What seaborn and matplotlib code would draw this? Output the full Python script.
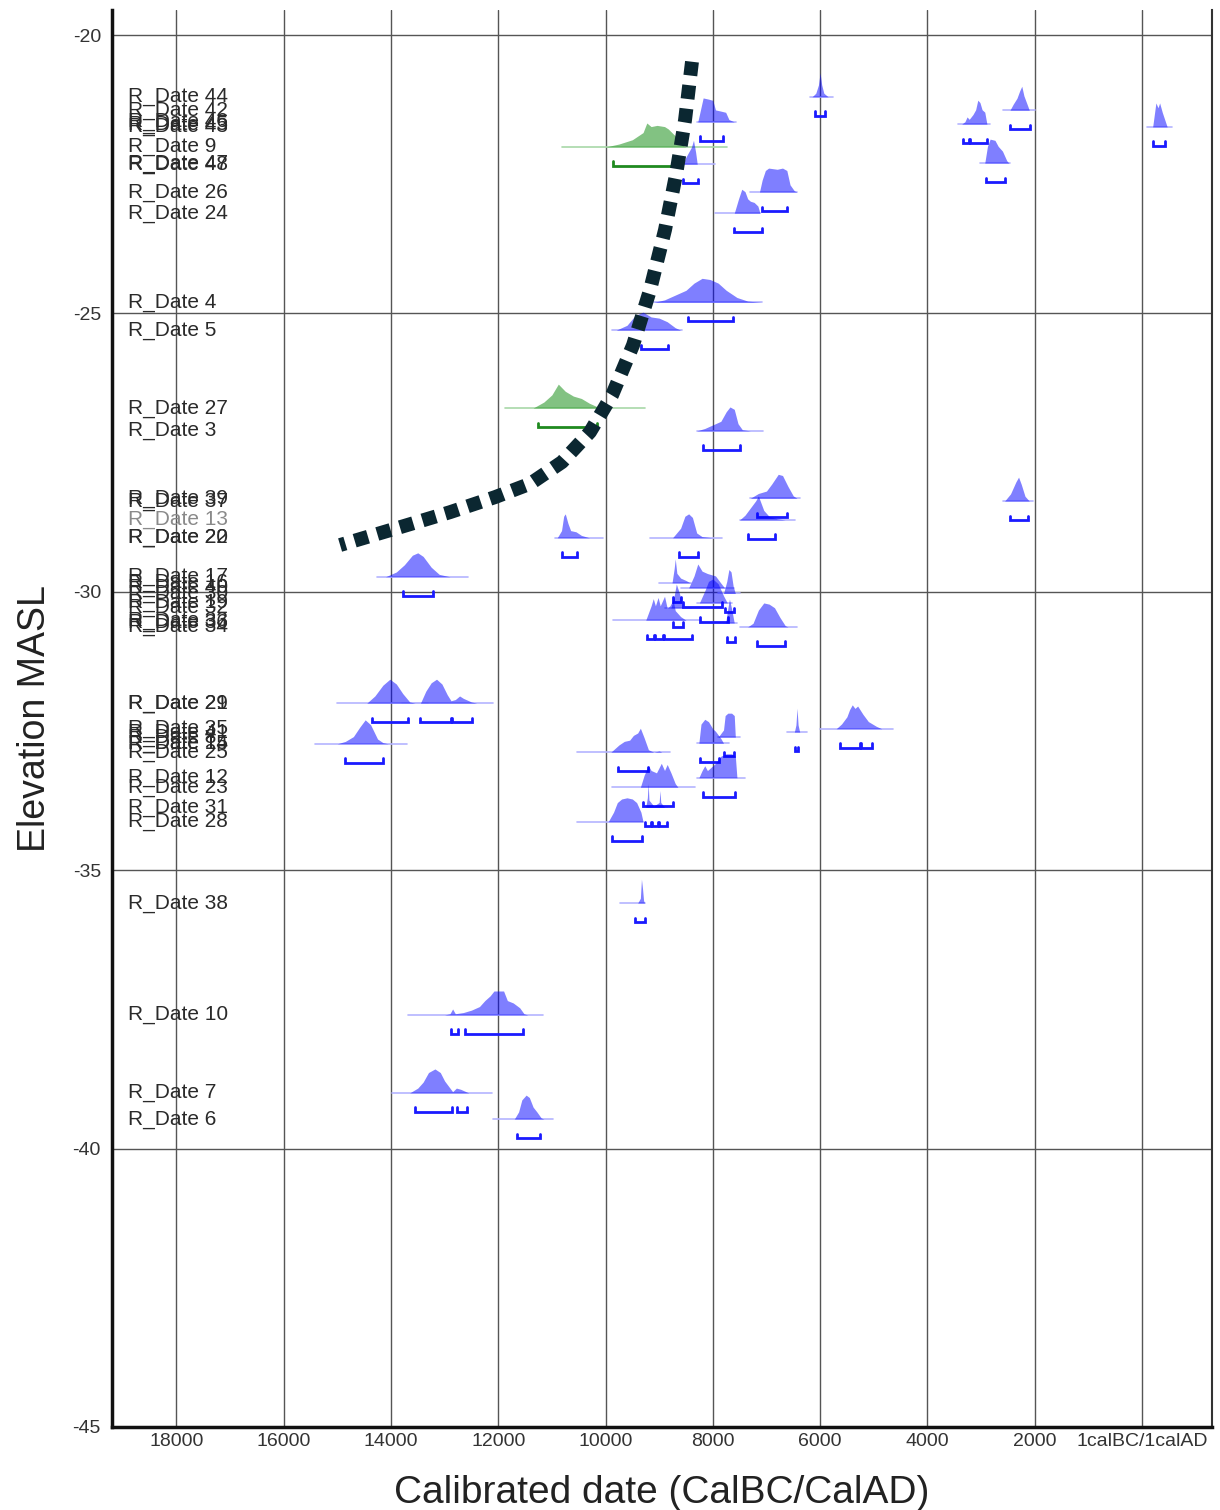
import matplotlib
matplotlib.use("Agg")
import matplotlib.pyplot as plt
from matplotlib.ticker import MultipleLocator
import seaborn as sns

# --- data ----------------------------------------------------------------
# years are cal BC (negative = AD), elevations in m ASL
labels = ["R_Date 44", "R_Date 42", "R_Date 46", "R_Date 45", "R_Date 43",
          "R_Date 9", "R_Date 48", "R_Date 47", "R_Date 26", "R_Date 24",
          "R_Date 4", "R_Date 5", "R_Date 27", "R_Date 3", "R_Date 39",
          "R_Date 37", "R_Date 13", "R_Date 22", "R_Date 20", "R_Date 17",
          "R_Date 16", "R_Date 40", "R_Date 30", "R_Date 19", "R_Date 32",
          "R_Date 33", "R_Date 36", "R_Date 34", "R_Date 29", "R_Date 21",
          "R_Date 35", "R_Date 41", "R_Date 8", "R_Date 15", "R_Date 14",
          "R_Date 25", "R_Date 12", "R_Date 23", "R_Date 31", "R_Date 28",
          "R_Date 38", "R_Date 10", "R_Date 7", "R_Date 6"]

elevations = [-21.11, -21.35, -21.56, -21.60, -21.65,
              -22.01, -22.32, -22.30, -22.82, -23.20,
              -24.80, -25.30, -26.70, -27.11, -28.32,
              -28.37, -28.71, -29.03, -29.03, -29.73,
              -29.84, -29.93, -30.03, -30.20, -30.29,
              -30.51, -30.56, -30.63, -32.00, -32.00,
              -32.46, -32.52, -32.61, -32.72, -32.73,
              -32.88, -33.34, -33.51, -33.87, -34.13,
              -35.59, -37.60, -39.00, -39.47]

green_dates = ["R_Date 9", "R_Date 27"]
faded_labels = ["R_Date 13"]

# extent of the thin baseline under each distribution
base_from = [6190, 2590, 8300, 3430, -90,
             10810, 8740, 3020, 7307, 7960,
             9133, 9880, 11873, 8295, 7307,
             2590, 7493, 10940, 9170, 14259,
             9000, 8600, 7900, 8300, 8900,
             9860, 7800, 7493, 15000, 13800,
             6000, 6617, 7900, 8300, 15415,
             10530, 8300, 9880, 9300, 10530,
             9730, 13680, 13980, 12097]
base_to = [5760, 2000, 7560, 2830, -560,
           7735, 7960, 2460, 6430, 7120,
           7083, 8575, 9263, 7065, 6375,
           2030, 6468, 10046, 7830, 12563,
           8400, 7600, 7500, 7650, 8400,
           8240, 7550, 6430, 13300, 12095,
           4640, 6244, 7500, 7700, 13700,
           8800, 7400, 8330, 8850, 9300,
           9263, 11160, 12115, 10978]

# probability profiles: sample years and relative heights
prof_years = [
    [6150, 6080, 6030, 6000, 5970, 5930, 5850],
    [2460, 2400, 2330, 2280, 2240, 2200, 2150, 2100],
    [8280, 8230, 8180, 8080, 8000, 7950, 7850, 7760, 7700, 7600],
    [3360, 3300, 3260, 3220, 3150, 3100, 3060, 3020, 2980, 2930, 2890],
    [-200, -230, -260, -300, -330, -380, -440, -470],
    [10000, 9750, 9500, 9300, 9230, 9150, 9040, 8900, 8830, 8650, 8550, 8500],
    [8560, 8500, 8450, 8400, 8360, 8320, 8290],
    [2930, 2880, 2830, 2740, 2680, 2600, 2520, 2480],
    [7130, 7080, 7020, 6960, 6800, 6700, 6620, 6560, 6480, 6430],
    [7600, 7520, 7460, 7400, 7350, 7300, 7230, 7160, 7120],
    [9100, 8900, 8700, 8500, 8350, 8200, 8050, 7900, 7750, 7550, 7350, 7100],
    [9800, 9600, 9450, 9300, 9150, 9000, 8850, 8700, 8600],
    [11350, 11150, 11000, 10880, 10750, 10600, 10450, 10300, 10150, 10050],
    [8300, 8150, 8000, 7850, 7750, 7680, 7600, 7530, 7450, 7300],
    [7300, 7150, 7000, 6900, 6780, 6700, 6600, 6500, 6430],
    [2560, 2450, 2350, 2300, 2250, 2180, 2100],
    [7500, 7400, 7300, 7200, 7150, 7050, 6950, 6800, 6650],
    [10900, 10820, 10780, 10750, 10700, 10650, 10550, 10450, 10300],
    [8750, 8600, 8520, 8450, 8380, 8300, 8200, 8000],
    [14100, 13900, 13750, 13600, 13500, 13400, 13250, 13100, 12900],
    [8760, 8720, 8700, 8670, 8600, 8500, 8420],
    [8450, 8350, 8280, 8200, 8100, 7950, 7850, 7780],
    [7800, 7740, 7700, 7660, 7620, 7580],
    [8250, 8150, 8080, 8000, 7900, 7800, 7730],
    [8780, 8720, 8680, 8620, 8560],
    [9250, 9150, 9110, 9070, 9020, 8980, 8900, 8850, 8800, 8740, 8700, 8600, 8500],
    [7760, 7720, 7690, 7650, 7600],
    [7350, 7250, 7150, 7050, 6950, 6850, 6750, 6650, 6600],
    [14450, 14300, 14150, 14020, 13900, 13780, 13650, 13550],
    [13450, 13350, 13250, 13150, 13050, 12950, 12880, 12800, 12720, 12650, 12500, 12400],
    [5700, 5600, 5500, 5450, 5400, 5350, 5300, 5200, 5100, 4950, 4850],
    [6480, 6450, 6430, 6410, 6380],
    [7900, 7800, 7770, 7720, 7650, 7600, 7580],
    [8260, 8220, 8150, 8080, 8000, 7950, 7850, 7800],
    [15000, 14850, 14700, 14580, 14480, 14380, 14250, 14150, 14050],
    [9900, 9750, 9650, 9550, 9480, 9400, 9350, 9280, 9200, 9100, 9000, 8950],
    [8260, 8200, 8150, 8100, 8050, 7950, 7850, 7750, 7650, 7580, 7550],
    [9350, 9280, 9200, 9150, 9050, 8960, 8900, 8850, 8780, 8700, 8650],
    [9250, 9220, 9205, 9190, 9100, 9000, 8985, 8970, 8900],
    [9950, 9850, 9780, 9700, 9600, 9500, 9420, 9340, 9300],
    [9400, 9350, 9330, 9310, 9290, 9270],
    [13000, 12900, 12850, 12800, 12650, 12500, 12350, 12250, 12150, 12080,
     11900, 11830, 11720, 11600, 11520, 11450],
    [13650, 13500, 13400, 13300, 13180, 13080, 13000, 12900, 12850, 12780,
     12700, 12600, 12550],
    [11700, 11620, 11560, 11480, 11420, 11350, 11280, 11200, 11150],
]
prof_heights = [
    [0, .15, .5, 1, .5, .15, 0],
    [0, .25, .5, .8, 1, .6, .3, 0],
    [0, .5, 1, .95, .9, .5, .45, .4, .1, 0],
    [0, .1, .3, .2, .4, .6, 1, .9, .6, .5, 0],
    [0, .5, 1, .8, 1, .6, .2, 0],
    [0, .12, .3, .6, 1, .85, .9, .85, .75, .35, .05, 0],
    [0, .3, .5, .7, 1, .5, 0],
    [0, .7, 1, .95, .7, .5, .1, 0],
    [0, .5, .9, 1, .95, 1, .9, .3, .05, 0],
    [0, .6, 1, .9, .6, .5, .45, .3, 0],
    [0, .1, .3, .5, .8, 1, .95, .8, .5, .2, .05, 0],
    [0, .2, .6, .75, .55, .5, .35, .1, 0],
    [0, .25, .55, 1, .7, .5, .4, .2, .05, 0],
    [0, .1, .25, .4, .8, 1, .9, .3, .05, 0],
    [0, .2, .3, .6, 1, .95, .5, .1, 0],
    [0, .3, .8, 1, .7, .2, 0],
    [0, .2, .5, .8, 1, .4, .15, .05, 0],
    [0, .3, .9, 1, .6, .3, .25, .1, 0],
    [0, .4, .9, 1, .85, .2, .05, 0],
    [0, .2, .5, .9, 1, .85, .4, .1, 0],
    [0, .6, 1, .4, .2, .1, 0],
    [0, .5, 1, .7, .6, .5, .2, 0],
    [0, .5, 1, .9, .3, 0],
    [0, .5, .9, 1, .8, .3, 0],
    [0, .5, 1, .6, 0],
    [0, .6, .9, .6, .95, .6, 1, .5, .6, .85, .4, .15, 0],
    [0, .6, 1, .6, 0],
    [0, .15, .7, 1, .95, .8, .4, .05, 0],
    [0, .3, .75, 1, .8, .4, .05, 0],
    [0, .5, .85, 1, .8, .35, .1, .15, .3, .2, .05, 0],
    [0, .2, .5, .8, 1, .85, .95, .6, .3, .1, 0],
    [0, .3, 1, .3, 0],
    [0, .3, .9, 1, 1, .9, 0],
    [0, .8, 1, .9, .6, .5, .2, 0],
    [0, .1, .3, .7, 1, .8, .2, .05, 0],
    [0, .3, .45, .5, .7, .8, 1, .6, .1, 0, .05, 0],
    [0, .3, .5, .3, .4, .6, .9, 1, 1, .9, 0],
    [0, .5, .9, .7, .6, 1, .7, .95, .6, .15, 0],
    [0, .4, 1, .3, .05, .2, .7, .2, 0],
    [0, .4, .8, .95, 1, .95, .8, .4, 0],
    [0, .2, 1, .6, .1, 0],
    [0, .05, .25, .05, .1, .2, .35, .6, .8, 1, 1, .6, .5, .3, .05, 0],
    [0, .2, .45, .85, 1, .85, .5, .2, .05, .2, .15, .05, 0],
    [0, .3, .8, 1, .9, .5, .3, .05, 0],
]

# 95% ranges drawn as brackets below each date
ranges95 = [
    [(6100, 5900)], [(2460, 2090)], [(8240, 7810)], [(3340, 3230), (3200, 2890)],
    [(-205, -430)], [(9860, 8575)], [(8555, 8275)], [(2908, 2553)],
    [(7083, 6617)], [(7605, 7083)], [(8462, 7624)], [(9340, 8835)],
    [(11258, 10158)], [(8183, 7493)], [(7176, 6617)], [(2460, 2125)],
    [(7344, 6840)], [(10810, 10530)], [(8630, 8275)], [(13774, 13215)],
    [(8740, 8600)], [(8560, 7830)], [(7770, 7600)], [(8240, 7715)],
    [(8740, 8555)], [(9226, 9100), (9080, 8930), (8910, 8388)], [(7735, 7586)],
    [(7176, 6654)], [(14352, 13680)], [(13450, 12880), (12860, 12480)],
    [(5629, 5250), (5230, 5033)], [(6470, 6410)], [(7790, 7600)], [(8240, 7880)],
    [(14856, 14148)], [(9767, 9208)], [(8183, 7586)], [(9300, 8740)],
    [(9263, 9150), (9130, 9020), (9000, 8854)], [(9879, 9320)], [(9450, 9263)],
    [(12880, 12750), (12620, 11540)], [(13550, 12860), (12770, 12580)],
    [(11650, 11220)],
]

# hand-drawn dotted trend line
curve_years = [8388, 8518, 8686, 8891, 9170, 9487, 9879, 10289, 10811,
               11407, 12060, 12899, 13830, 14948]
curve_elev = [-20.48, -21.53, -22.51, -23.50, -24.58, -25.57, -26.47, -27.13,
              -27.67, -28.06, -28.30, -28.57, -28.84, -29.16]

x_ticks = [18000, 16000, 14000, 12000, 10000, 8000, 6000, 4000, 2000, 0]
x_tick_labels = ["18000", "16000", "14000", "12000", "10000", "8000", "6000",
                 "4000", "2000", "1calBC/1calAD"]
y_ticks = [-20, -25, -30, -35, -40, -45]

# --- drawing --------------------------------------------------------------
sns.set_style("white")
plt.rcParams['font.family'] = ['Liberation Sans', 'DejaVu Sans']

fig = plt.figure(figsize=(12.2, 15.1), dpi=100)
ax = fig.add_axes([0.0918, 0.055, 0.9016, 0.9384])

peak_h = 0.43      # height of a normalised distribution (m)
brk_off = 0.34     # bracket distance below the baseline
brk_tick = 0.08

for i, lab in enumerate(labels):
    el = elevations[i]
    green = lab in green_dates
    fill_c = '#2f9a2f' if green else '#0000ff'
    base_c = '#a8d8a8' if green else '#b4b4ff'
    brk_c = '#1f8a1f' if green else '#1a1aff'

    ax.plot([base_from[i], base_to[i]], [el, el], color=base_c, lw=1.2, zorder=2)
    top = [el + peak_h * h for h in prof_heights[i]]
    ax.fill_between(prof_years[i], el, top, color=fill_c,
                    alpha=0.6 if green else 0.5, lw=0, zorder=3)
    yb = el - brk_off
    for a, b in ranges95[i]:
        ax.plot([a, a, b, b], [yb + brk_tick, yb, yb, yb + brk_tick],
                color=brk_c, lw=2, solid_joinstyle='miter', zorder=3)

    txt_c = '#8a8a8a' if lab in faded_labels else '#2a2a2a'
    ax.text(18900, el, lab, ha='left', va='center', fontsize=15,
            color=txt_c, zorder=4)

sns.lineplot(x=curve_years, y=curve_elev, sort=False, ax=ax, color='#0b2731',
             lw=10, linestyle=(0, (1, 0.7)), zorder=5)

ax.set_xlim(19200, -1305)
ax.set_ylim(-45, -19.55)

ax.set_xticks(x_ticks)
ax.set_xticklabels(x_tick_labels)
ax.set_yticks(y_ticks)
ax.set_yticklabels([str(v) for v in y_ticks])
ax.xaxis.set_minor_locator(MultipleLocator(200))
ax.yaxis.set_minor_locator(MultipleLocator(0.5))
ax.tick_params(axis='both', which='major', direction='in', length=12,
               width=1.2, color='#222222', labelsize=14, labelcolor='#333333')
ax.tick_params(axis='both', which='minor', direction='in', length=6,
               width=1, color='#222222')
ax.tick_params(axis='x', which='major', pad=4)
ax.tick_params(axis='y', which='major', pad=8)

ax.grid(True, which='major', color='#555555', lw=1.0)
ax.set_axisbelow(True)

for side in ['left', 'bottom']:
    ax.spines[side].set_linewidth(2.5)
    ax.spines[side].set_color('#111111')
ax.spines['right'].set_linewidth(1.5)
ax.spines['right'].set_color('#333333')
ax.spines['top'].set_visible(False)

ax.set_xlabel('Calibrated date (CalBC/CalAD)', fontsize=28, color='#222222',
              labelpad=18)
ax.set_ylabel('Elevation MASL', fontsize=27, color='#222222', labelpad=14)

fig.savefig('out.png', dpi=100)
